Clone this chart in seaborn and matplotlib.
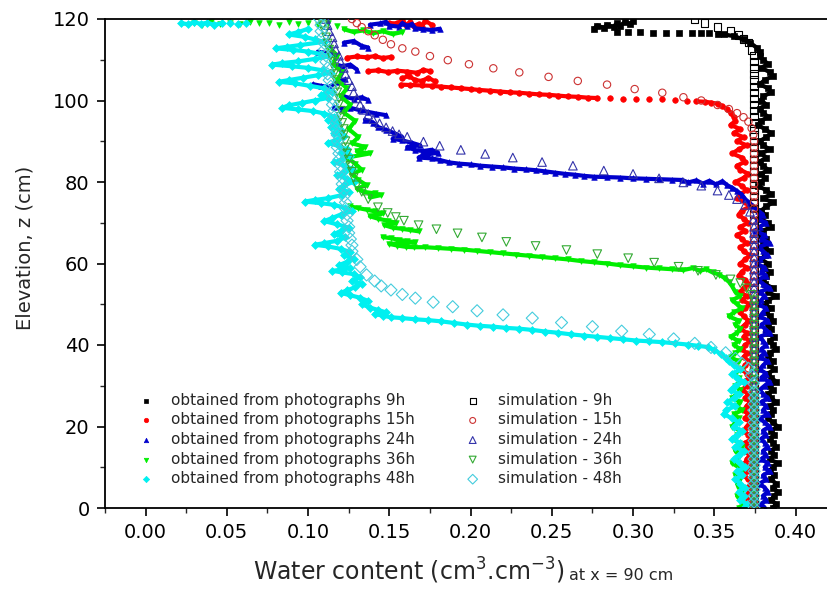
import numpy as np
import pandas as pd
import seaborn as sns
import matplotlib.pyplot as plt
from matplotlib.ticker import MultipleLocator, FormatStrFormatter

# elevation rows (cm) where the saturated columns of the photo data were read
z_rows = [111, 110, 109, 108, 107, 106, 105, 104, 103, 102, 101, 100,
          99, 98, 97, 96, 95, 94, 93, 92, 91, 90, 89, 88,
          87, 86, 85, 84, 83, 82, 81, 80, 79, 78, 77, 76,
          75, 74, 73, 72, 71, 70, 69, 68, 67, 66, 65, 64,
          63, 62, 61, 60, 59, 58, 57, 56, 55, 54, 53, 52,
          51, 50, 49, 48, 47, 46, 45, 44, 43, 42, 41, 40,
          39, 38, 37, 36, 35, 34, 33, 32, 31, 30, 29, 28,
          27, 26, 25, 24, 23, 22, 21, 20, 19, 18, 17, 16,
          15, 14, 13, 12, 11, 10, 9, 8, 7, 6, 5, 4,
          3, 2, 1, 0]

# ---- obtained from photographs (water content, elevation) ----
# "bands" are runs of touching points, "dots" are isolated points.
# The last band of each series continues into its saturated column.
ph9_bands = [
    [(0.276, 117.6), (0.278, 118.4), (0.282, 117.8), (0.284, 118.6), (0.288, 118.0),
     (0.290, 119.0), (0.292, 118.4), (0.295, 119.2), (0.298, 118.8), (0.300, 119.4)],
    [(0.352, 116.4), (0.356, 116.2), (0.362, 115.8), (0.368, 115.0), (0.372, 114.2),
     (0.376, 113.0), (0.378, 112.0)],
]
ph9_dots = [(0.290, 116.8), (0.297, 116.7), (0.304, 116.7), (0.312, 116.6), (0.320, 116.6),
            (0.328, 116.6), (0.336, 116.6), (0.342, 116.5), (0.347, 116.5)]

ph15_bands = [
    [(0.150, 119.0), (0.155, 118.9), (0.158, 119.8), (0.160, 118.6), (0.163, 119.2),
     (0.165, 118.3), (0.168, 118.8), (0.170, 118.0), (0.172, 119.6), (0.176, 118.6)],
    [(0.124, 110.5), (0.130, 110.8), (0.136, 110.6), (0.141, 110.9), (0.146, 110.4),
     (0.151, 110.7)],
    [(0.137, 107.2), (0.143, 107.4), (0.149, 107.0), (0.155, 107.3), (0.161, 107.1),
     (0.167, 106.8), (0.171, 107.5), (0.175, 107.2)],
    [(0.158, 105.5), (0.162, 106.0), (0.166, 105.0), (0.170, 104.8), (0.174, 105.6),
     (0.178, 104.7)],
    [(0.157, 103.9), (0.163, 103.8), (0.170, 103.7), (0.176, 103.6), (0.182, 103.4),
     (0.188, 103.2), (0.194, 103.0), (0.200, 102.8), (0.205, 102.6), (0.212, 102.4),
     (0.218, 102.2), (0.224, 102.0), (0.230, 101.9), (0.236, 101.7), (0.242, 101.5),
     (0.248, 101.4), (0.254, 101.2), (0.260, 101.0), (0.266, 100.9), (0.272, 100.7),
     (0.278, 100.6)],
    [(0.339, 99.8), (0.344, 99.7), (0.348, 99.5), (0.352, 99.2), (0.355, 98.6),
     (0.358, 97.8), (0.360, 97.0), (0.362, 96.0)],
]
ph15_dots = [(0.286, 100.5), (0.294, 100.4), (0.302, 100.4), (0.310, 100.3), (0.318, 100.3),
             (0.326, 100.2), (0.333, 100.0)]

ph24_bands = [
    [(0.138, 118.6), (0.144, 118.9), (0.148, 119.3), (0.150, 118.4), (0.156, 118.1),
     (0.158, 119.0), (0.161, 118.3), (0.164, 118.8), (0.166, 117.7), (0.171, 117.5),
     (0.176, 117.3), (0.181, 117.6)],
    [(0.122, 114.2), (0.128, 114.6), (0.133, 113.4), (0.137, 113.0)],
    [(0.106, 112.0), (0.112, 111.6), (0.117, 111.2)],
    [(0.116, 109.0), (0.121, 108.4), (0.126, 108.8), (0.130, 107.6)],
    [(0.103, 104.0), (0.108, 103.6), (0.113, 103.3), (0.118, 104.6), (0.123, 105.2)],
    [(0.122, 101.0), (0.128, 100.4), (0.133, 100.8), (0.137, 100.1)],
    [(0.116, 98.4), (0.121, 97.9), (0.126, 98.2), (0.132, 97.6), (0.137, 97.2),
     (0.142, 96.8), (0.148, 96.4)],
    [(0.135, 95.3), (0.140, 94.6), (0.143, 93.5), (0.148, 92.8), (0.153, 92.0),
     (0.158, 91.0), (0.152, 90.6), (0.158, 90.2), (0.164, 89.6), (0.169, 89.0),
     (0.161, 88.6), (0.166, 87.8), (0.171, 87.6), (0.176, 87.9), (0.180, 87.2),
     (0.171, 86.6), (0.168, 86.0), (0.176, 85.8), (0.181, 85.4), (0.187, 84.8),
     (0.193, 84.5), (0.200, 84.3), (0.206, 84.0), (0.213, 83.8), (0.220, 83.6),
     (0.227, 83.3), (0.234, 83.1), (0.240, 82.9), (0.246, 82.6), (0.252, 82.3),
     (0.258, 82.0), (0.264, 81.8), (0.270, 81.5), (0.276, 81.3), (0.284, 81.2),
     (0.292, 81.1), (0.300, 80.9), (0.308, 80.8), (0.316, 80.7), (0.324, 80.6),
     (0.330, 80.5), (0.334, 79.9), (0.339, 80.4), (0.343, 79.6), (0.347, 80.3),
     (0.351, 79.4), (0.355, 80.2), (0.358, 79.2), (0.361, 78.6), (0.364, 77.8),
     (0.367, 76.9), (0.369, 75.8), (0.372, 74.8)],
]
ph24_dots = []

ph36_bands = [
    [(0.122, 117.5), (0.128, 116.8), (0.134, 117.2), (0.140, 116.5), (0.146, 117.0),
     (0.152, 116.3), (0.158, 116.8)],
    [(0.113, 113.0), (0.118, 111.0), (0.115, 109.0), (0.121, 107.0), (0.118, 105.0),
     (0.124, 103.0), (0.120, 101.0), (0.126, 99.0), (0.122, 97.0), (0.129, 95.0),
     (0.125, 93.0), (0.131, 91.0), (0.127, 89.5), (0.135, 88.6), (0.130, 87.5),
     (0.138, 87.0), (0.124, 86.0), (0.129, 84.5), (0.133, 83.0), (0.127, 82.0),
     (0.131, 80.5), (0.136, 79.2), (0.130, 78.4), (0.134, 77.6), (0.141, 77.2),
     (0.145, 76.8), (0.138, 76.2)],
    [(0.126, 74.0), (0.131, 73.6), (0.136, 73.2), (0.141, 72.8), (0.146, 72.3),
     (0.138, 71.6), (0.143, 71.0), (0.149, 70.5), (0.154, 70.0), (0.147, 69.4),
     (0.152, 68.8), (0.158, 68.5), (0.163, 68.2), (0.168, 67.9)],
    [(0.146, 66.5), (0.151, 66.2), (0.156, 65.8), (0.161, 65.5), (0.166, 65.2),
     (0.150, 64.8), (0.155, 64.4), (0.160, 64.1), (0.165, 64.0), (0.172, 64.0),
     (0.180, 63.8), (0.188, 63.6), (0.196, 63.4), (0.204, 63.1), (0.212, 62.8),
     (0.220, 62.5), (0.228, 62.2), (0.236, 61.9), (0.244, 61.6), (0.252, 61.3),
     (0.260, 61.0), (0.268, 60.6), (0.276, 60.3), (0.284, 60.0), (0.292, 59.6),
     (0.300, 59.3), (0.308, 59.0), (0.316, 58.8), (0.324, 58.6), (0.331, 58.4),
     (0.337, 58.9), (0.341, 58.2), (0.345, 58.6), (0.349, 57.8), (0.353, 57.3),
     (0.356, 56.5), (0.359, 55.5), (0.361, 54.4)],
]
ph36_dots = [(0.030, 119.0), (0.035, 118.6), (0.040, 119.3), (0.046, 118.8), (0.052, 119.1),
             (0.058, 118.7), (0.064, 119.2), (0.070, 118.9), (0.076, 119.0), (0.082, 118.6),
             (0.088, 119.2), (0.094, 118.8), (0.100, 119.0), (0.106, 118.5), (0.112, 118.9),
             (0.118, 118.3)]

ph48_bands = [
    [(0.022, 119.0), (0.026, 118.7), (0.030, 119.2), (0.034, 118.8), (0.038, 119.1),
     (0.042, 118.6), (0.047, 118.9)],
    [(0.100, 117.6), (0.094, 116.8), (0.088, 116.2), (0.098, 115.6), (0.104, 115.0),
     (0.110, 114.4), (0.095, 113.6), (0.087, 113.2), (0.080, 112.8), (0.091, 112.4),
     (0.100, 112.0), (0.108, 111.4), (0.113, 110.8), (0.104, 110.2), (0.094, 109.6),
     (0.084, 109.2), (0.078, 108.8), (0.090, 108.4), (0.100, 108.0), (0.109, 107.4),
     (0.114, 106.8), (0.106, 106.2), (0.097, 105.6), (0.088, 105.0), (0.082, 104.6),
     (0.092, 104.2), (0.101, 103.6), (0.110, 103.0), (0.115, 102.2), (0.108, 101.4),
     (0.112, 100.6), (0.104, 100.0), (0.096, 99.4), (0.088, 98.8), (0.084, 98.2),
     (0.094, 97.8), (0.103, 97.4), (0.110, 96.8), (0.116, 96.0), (0.112, 95.2),
     (0.118, 94.4), (0.114, 93.6), (0.120, 92.8), (0.116, 92.0), (0.122, 91.2),
     (0.118, 90.4), (0.112, 89.6), (0.119, 88.8), (0.124, 88.0), (0.120, 87.2),
     (0.126, 86.4), (0.121, 85.6), (0.116, 84.8), (0.123, 84.0), (0.127, 83.2),
     (0.122, 82.4), (0.118, 81.6), (0.124, 80.8), (0.128, 80.0), (0.122, 79.2),
     (0.119, 78.4), (0.125, 77.6), (0.121, 76.8), (0.112, 76.0), (0.104, 75.6),
     (0.098, 75.2), (0.108, 74.8), (0.116, 74.4), (0.123, 73.6), (0.127, 72.8),
     (0.120, 72.0), (0.115, 71.2), (0.110, 70.4), (0.118, 69.6), (0.125, 68.8),
     (0.120, 68.0), (0.116, 67.2), (0.123, 66.4), (0.118, 65.6), (0.110, 65.0),
     (0.104, 64.6), (0.112, 64.2), (0.120, 63.6), (0.126, 62.8), (0.122, 62.0),
     (0.128, 61.2), (0.124, 60.4), (0.119, 59.6), (0.126, 58.8), (0.115, 58.2),
     (0.121, 57.8), (0.128, 57.4), (0.132, 56.6), (0.127, 55.8), (0.133, 55.0),
     (0.129, 54.2), (0.124, 53.4), (0.120, 52.8), (0.126, 52.2), (0.132, 51.6),
     (0.137, 50.8), (0.133, 50.0), (0.138, 49.2), (0.143, 48.6), (0.148, 48.0),
     (0.141, 47.6), (0.146, 47.2), (0.151, 46.8), (0.158, 46.6), (0.166, 46.3),
     (0.174, 46.1), (0.182, 45.8), (0.190, 45.4), (0.198, 45.0), (0.206, 44.7),
     (0.214, 44.5), (0.222, 44.2), (0.230, 44.0), (0.238, 43.7), (0.246, 43.3),
     (0.254, 43.0), (0.262, 42.6), (0.270, 42.3), (0.278, 42.0), (0.286, 41.7),
     (0.294, 41.4), (0.302, 41.1), (0.310, 40.9), (0.318, 40.7), (0.326, 40.4),
     (0.334, 40.1), (0.340, 39.8), (0.346, 39.5), (0.350, 38.8), (0.354, 37.8),
     (0.357, 36.8)],
]
ph48_dots = [(0.052, 119.0), (0.057, 118.7), (0.062, 118.9)]

# ---- obtained from photographs: saturated column, read on the tail of z_rows ----
ph9_col = [0.378, 0.380, 0.383, 0.379, 0.384, 0.386, 0.381, 0.378, 0.383, 0.385, 0.380, 0.379,
           0.382, 0.378, 0.380, 0.383, 0.379, 0.377, 0.381, 0.385, 0.382, 0.378, 0.380, 0.384,
           0.379, 0.382, 0.378, 0.380, 0.383, 0.379, 0.381, 0.379, 0.377, 0.382, 0.385, 0.380,
           0.386, 0.382, 0.379, 0.381, 0.378, 0.383, 0.385, 0.380, 0.379, 0.382, 0.380, 0.381,
           0.384, 0.381, 0.379, 0.383, 0.380, 0.384, 0.382, 0.380, 0.381, 0.386, 0.383, 0.388,
           0.383, 0.381, 0.385, 0.382, 0.384, 0.386, 0.383, 0.385, 0.382, 0.387, 0.384, 0.386,
           0.388, 0.384, 0.383, 0.386, 0.384, 0.387, 0.383, 0.385, 0.388, 0.384, 0.386, 0.383,
           0.385, 0.388, 0.384, 0.386, 0.385, 0.383, 0.386, 0.389, 0.385, 0.387, 0.384, 0.386,
           0.388, 0.385, 0.387, 0.384, 0.389, 0.386, 0.384, 0.387, 0.385, 0.388, 0.386, 0.389,
           0.387, 0.385, 0.388, 0.386]
ph15_col = [0.363, 0.360, 0.366, 0.362, 0.368, 0.364, 0.370, 0.365, 0.361, 0.367, 0.369, 0.364,
            0.366, 0.371, 0.368, 0.363, 0.367, 0.370, 0.366, 0.364, 0.369, 0.372, 0.367, 0.365,
            0.368, 0.371, 0.366, 0.369, 0.364, 0.367, 0.370, 0.366, 0.368, 0.372, 0.369, 0.366,
            0.370, 0.367, 0.365, 0.369, 0.371, 0.368, 0.366, 0.370, 0.367, 0.372, 0.369, 0.366,
            0.368, 0.371, 0.369, 0.366, 0.370, 0.368, 0.372, 0.369, 0.367, 0.370, 0.368, 0.371,
            0.369, 0.367, 0.370, 0.372, 0.368, 0.370, 0.367, 0.371, 0.369, 0.372, 0.370, 0.368,
            0.371, 0.369, 0.372, 0.370, 0.368, 0.371, 0.373, 0.369, 0.371, 0.368, 0.372, 0.370,
            0.369, 0.372, 0.370, 0.368, 0.371, 0.373, 0.370, 0.372, 0.369, 0.371, 0.373, 0.371]
ph24_col = [0.374, 0.377, 0.380, 0.376, 0.382, 0.378, 0.375, 0.381, 0.379, 0.384, 0.377, 0.380,
            0.383, 0.378, 0.376, 0.381, 0.379, 0.382, 0.377, 0.380, 0.384, 0.378, 0.381, 0.379,
            0.377, 0.382, 0.380, 0.378, 0.383, 0.379, 0.381, 0.384, 0.378, 0.380, 0.382, 0.379,
            0.381, 0.378, 0.383, 0.380, 0.378, 0.382, 0.379, 0.384, 0.381, 0.378, 0.380, 0.383,
            0.379, 0.382, 0.380, 0.383, 0.378, 0.381, 0.384, 0.380, 0.382, 0.379, 0.381, 0.383,
            0.380, 0.382, 0.379, 0.383, 0.381, 0.384, 0.380, 0.382, 0.378, 0.381, 0.383, 0.380,
            0.382, 0.379, 0.381]
ph36_col = [0.363, 0.366, 0.361, 0.364, 0.367, 0.362, 0.359, 0.365, 0.363, 0.366, 0.364, 0.360,
            0.365, 0.362, 0.366, 0.363, 0.360, 0.365, 0.363, 0.367, 0.362, 0.365, 0.366, 0.363,
            0.366, 0.364, 0.361, 0.366, 0.364, 0.367, 0.362, 0.365, 0.363, 0.361, 0.366, 0.364,
            0.362, 0.365, 0.367, 0.363, 0.366, 0.364, 0.361, 0.365, 0.367, 0.363, 0.366, 0.364,
            0.365, 0.367, 0.364, 0.366, 0.368, 0.365]
ph48_col = [0.359, 0.362, 0.366, 0.361, 0.364, 0.368, 0.363, 0.360, 0.365, 0.362, 0.358, 0.363,
            0.357, 0.356, 0.361, 0.365, 0.362, 0.367, 0.364, 0.361, 0.366, 0.363, 0.368, 0.365,
            0.362, 0.366, 0.369, 0.364, 0.367, 0.363, 0.366, 0.369, 0.365, 0.368, 0.366, 0.370,
            0.368]

# ---- simulation: front part (water content, elevation) ----
sim9_front = [(0.338, 120.0), (0.344, 119.0), (0.352, 118.0), (0.360, 117.1), (0.365, 116.1),
              (0.368, 115.1), (0.371, 114.2), (0.373, 112.4)]
sim15_front = [(0.127, 120.0), (0.130, 119.0), (0.133, 118.0), (0.137, 117.0), (0.141, 116.0),
               (0.146, 114.9), (0.151, 113.8), (0.158, 112.8), (0.166, 112.0), (0.175, 110.9),
               (0.186, 109.9), (0.199, 108.9), (0.214, 107.9), (0.230, 106.9), (0.248, 105.8),
               (0.266, 104.8), (0.284, 103.9), (0.301, 102.8), (0.318, 101.9), (0.331, 100.8),
               (0.342, 100.0), (0.352, 98.9), (0.359, 97.9), (0.364, 96.9), (0.368, 95.9),
               (0.371, 94.8), (0.373, 93.2), (0.374, 91.6)]
sim24_front = [(0.111, 120.0), (0.112, 118.5), (0.113, 117.0), (0.115, 115.5), (0.116, 114.0),
               (0.117, 112.5), (0.119, 111.0), (0.120, 109.5), (0.122, 108.0), (0.123, 106.5),
               (0.125, 105.0), (0.127, 103.5), (0.128, 102.0), (0.130, 100.5), (0.132, 99.0),
               (0.134, 97.7), (0.137, 96.5), (0.140, 95.4), (0.144, 94.4), (0.148, 93.4),
               (0.152, 92.5), (0.156, 91.7), (0.161, 91.1), (0.171, 89.9), (0.181, 88.9),
               (0.194, 87.9), (0.209, 86.9), (0.226, 86.0), (0.244, 84.9), (0.263, 84.0),
               (0.282, 82.8), (0.300, 82.0), (0.316, 80.9), (0.331, 79.9), (0.342, 79.1),
               (0.352, 77.9), (0.359, 76.8), (0.364, 75.8), (0.369, 74.4), (0.372, 72.7),
               (0.374, 70.7), (0.3745, 69.0)]
sim36_front = [(0.108, 120.0), (0.109, 118.5), (0.110, 117.0), (0.111, 115.5), (0.112, 114.0),
               (0.113, 112.5), (0.114, 111.0), (0.115, 109.5), (0.116, 108.0), (0.116, 106.5),
               (0.117, 105.0), (0.118, 103.5), (0.118, 102.0), (0.119, 100.5), (0.119, 99.0),
               (0.120, 97.5), (0.120, 96.0), (0.121, 94.5), (0.122, 93.0), (0.122, 91.5),
               (0.123, 90.0), (0.123, 88.5), (0.124, 87.0), (0.125, 85.5), (0.126, 84.0),
               (0.127, 82.5), (0.128, 81.0), (0.130, 79.2), (0.133, 77.6), (0.137, 75.8),
               (0.143, 73.8), (0.149, 72.4), (0.154, 71.4), (0.159, 70.5), (0.168, 69.4),
               (0.179, 68.4), (0.192, 67.4), (0.207, 66.4), (0.222, 65.3), (0.240, 64.3),
               (0.259, 63.3), (0.278, 62.3), (0.297, 61.3), (0.313, 60.2), (0.328, 59.2),
               (0.340, 58.2), (0.351, 57.2), (0.360, 56.1), (0.366, 55.2), (0.370, 53.9),
               (0.373, 52.3)]
sim48_front = [(0.107, 120.0), (0.108, 118.5), (0.108, 117.0), (0.109, 115.5), (0.110, 114.0),
               (0.110, 112.5), (0.111, 111.0), (0.111, 109.5), (0.112, 108.0), (0.112, 106.5),
               (0.113, 105.0), (0.114, 103.5), (0.114, 102.0), (0.115, 100.5), (0.115, 99.0),
               (0.116, 97.5), (0.116, 96.0), (0.117, 94.5), (0.117, 93.0), (0.118, 91.5),
               (0.118, 90.0), (0.118, 88.5), (0.119, 87.0), (0.119, 85.5), (0.120, 84.0),
               (0.120, 82.5), (0.121, 81.0), (0.121, 79.5), (0.122, 78.0), (0.122, 76.5),
               (0.123, 75.0), (0.123, 73.5), (0.124, 72.0), (0.124, 70.5), (0.125, 69.0),
               (0.125, 67.5), (0.126, 66.0), (0.127, 64.5), (0.127, 63.0), (0.130, 61.0),
               (0.132, 59.2), (0.136, 57.2), (0.141, 55.7), (0.145, 54.5), (0.151, 53.5),
               (0.158, 52.4), (0.166, 51.5), (0.177, 50.5), (0.189, 49.4), (0.204, 48.4),
               (0.220, 47.4), (0.238, 46.6), (0.256, 45.5), (0.275, 44.5), (0.293, 43.4),
               (0.310, 42.6), (0.325, 41.5), (0.338, 40.4), (0.348, 39.4), (0.357, 38.1),
               (0.363, 36.7), (0.367, 35.5), (0.371, 34.3), (0.373, 32.6), (0.374, 30.6)]

# simulated saturated column: water content and node elevations
sim_sat_theta = 0.3745
sim_nodes = [111, 109.5, 108, 106.5, 105, 103.5, 102, 100.5, 99, 97.5, 96, 94.5, 93, 91.5,
             90, 88.5, 87, 85.5, 84, 82.5, 81, 79.5, 78, 76.5, 75, 73.5, 72, 70.5, 69, 67.5,
             66, 64.5, 63, 61.5, 60, 58.5, 57, 55.5, 54, 52.5, 51, 49.5, 48, 46.5, 45, 43.5,
             42, 40.5, 39, 37.5, 36, 34.5, 33, 31.5, 30, 28.5, 27, 25.5, 24, 22.5, 21, 19.5,
             18, 16.5, 15, 13.5, 12, 10.5, 9, 7.5, 6, 4.5, 3, 1.5, 0]

labels_photo = ["obtained from photographs 9h", "obtained from photographs 15h",
                "obtained from photographs 24h", "obtained from photographs 36h",
                "obtained from photographs 48h"]
labels_sim = ["simulation - 9h", "simulation - 15h", "simulation - 24h",
              "simulation - 36h", "simulation - 48h"]

photo_colors = ["#000000", "#ff0000", "#0000cc", "#00ee00", "#00f0f0"]
photo_markers = ["s", "o", "^", "v", "D"]
sim_colors = ["#000000", "#cc3333", "#3333aa", "#33aa33", "#44ccdd"]
sim_markers = ["s", "o", "^", "v", "D"]


def photo_pieces(bands, col):
    # attach the saturated column to the last band
    col_pairs = list(zip(col, z_rows[len(z_rows) - len(col):]))
    pieces = [pd.DataFrame(b, columns=["theta", "z"]) for b in bands[:-1]]
    pieces.append(pd.DataFrame(bands[-1] + col_pairs, columns=["theta", "z"]))
    return pieces


def sim_frame(front):
    zmin = min(p[1] for p in front)
    col_z = [z for z in sim_nodes if z < zmin - 1.0]
    x = [p[0] for p in front] + [sim_sat_theta] * len(col_z)
    z = [p[1] for p in front] + col_z
    return pd.DataFrame({"theta": x, "z": z})


photo_bands = [photo_pieces(ph9_bands, ph9_col), photo_pieces(ph15_bands, ph15_col),
               photo_pieces(ph24_bands, ph24_col), photo_pieces(ph36_bands, ph36_col),
               photo_pieces(ph48_bands, ph48_col)]
photo_dots = [ph9_dots, ph15_dots, ph24_dots, ph36_dots, ph48_dots]
sim_data = [sim_frame(sim9_front), sim_frame(sim15_front), sim_frame(sim24_front),
            sim_frame(sim36_front), sim_frame(sim48_front)]

sns.set_style("ticks")
plt.rcParams['font.family'] = ['DejaVu Sans']

fig = plt.figure(figsize=(8.28, 5.92), dpi=100)
ax = fig.add_axes([105 / 828, 84 / 592, 723 / 828, 489 / 592])

for pieces, dots, lab, c, m in zip(photo_bands, photo_dots, labels_photo,
                                   photo_colors, photo_markers):
    for piece in pieces:
        sns.lineplot(data=piece, x="theta", y="z", ax=ax, sort=False, estimator=None,
                     color=c, lw=3.0, zorder=2)
    pts = pd.concat(pieces + [pd.DataFrame(dots, columns=["theta", "z"])], ignore_index=True)
    sns.scatterplot(data=pts, x="theta", y="z", ax=ax, marker=m, color=c, edgecolor=c,
                    s=16, linewidth=0.5, label=lab, zorder=2)

for df, lab, c, m in zip(sim_data, labels_sim, sim_colors, sim_markers):
    size = 28 if m in ("o", "s") else 38
    sns.scatterplot(data=df, x="theta", y="z", ax=ax, marker=m, color=c, facecolor="none",
                    edgecolor=c, s=size, linewidth=0.8, label=lab, zorder=3)

ax.set_xlim(-0.025, 0.42)
ax.set_ylim(0, 120)
ax.xaxis.set_major_locator(MultipleLocator(0.05))
ax.xaxis.set_minor_locator(MultipleLocator(0.025))
ax.xaxis.set_major_formatter(FormatStrFormatter('%.2f'))
ax.yaxis.set_major_locator(MultipleLocator(20))
ax.yaxis.set_minor_locator(MultipleLocator(10))
ax.tick_params(which='major', direction='out', length=6, width=1.2, labelsize=14, pad=5,
               top=False, right=False, colors='black')
ax.tick_params(which='minor', direction='out', length=3.5, width=1.0, top=False, right=False)
for side in ['left', 'bottom', 'top']:
    ax.spines[side].set_linewidth(1.3)
    ax.spines[side].set_color('black')
ax.spines['right'].set_visible(False)
ax.set_xlabel('')
ax.set_ylabel('')

handles, labels = ax.get_legend_handles_labels()
leg_kw = dict(frameon=False, fontsize=11, handlelength=1.0, handletextpad=1.15,
              labelspacing=0.3, borderpad=0, borderaxespad=0, loc='center left',
              markerscale=0.8)
leg1 = ax.legend(handles[:5], labels[:5], bbox_to_anchor=(0.046, 0.14), **leg_kw)
ax.add_artist(leg1)
ax.legend(handles[5:], labels[5:], bbox_to_anchor=(0.498, 0.14), **leg_kw)

fig.text(25 / 828, 1 - 248 / 592, 'Elevation, z (cm)', rotation=90, fontsize=14,
         ha='center', va='center')
xl = fig.text(253 / 828, 12 / 592, r'Water content (cm$^{3}$.cm$^{-3}$)', fontsize=17,
              ha='left', va='baseline')
fig.canvas.draw()
bb = xl.get_window_extent()
fig.text((bb.x1 + 5) / 828, 12 / 592, 'at x = 90 cm', fontsize=11.5, ha='left',
         va='baseline')

fig.savefig('out.png', dpi=100)
